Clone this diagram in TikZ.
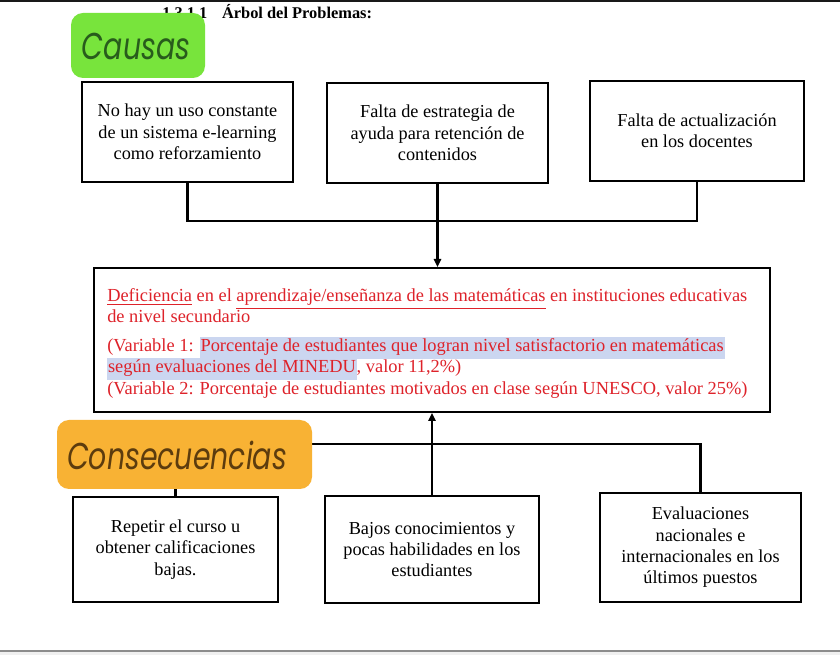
\documentclass[tikz,border=0pt]{standalone}
\usepackage{fontspec}
\setmainfont{Liberation Serif}
\newfontfamily\handfont{Poppins}[FakeStretch=0.76]
\usetikzlibrary{arrows.meta}
\definecolor{redtxt}{RGB}{222,34,42}
\definecolor{hlblue}{RGB}{203,214,240}
\definecolor{causafill}{RGB}{120,228,60}
\definecolor{causatxt}{RGB}{40,92,28}
\definecolor{consfill}{RGB}{248,178,52}
\definecolor{constxt}{RGB}{92,60,14}
\newcommand\hlb[1]{{\setlength{\fboxsep}{0.6pt}\colorbox{hlblue}{\strut #1}}}
\tikzset{
  boxtxt/.style={font=\fontsize{13.7}{16}\selectfont, align=center},
  sbox/.style={draw=black, line width=1.5pt, fill=white, boxtxt, inner sep=0pt},
  conn/.style={draw=black, line width=2pt},
  arr/.style={conn, -{Triangle[length=6pt,width=5.5pt]}},
  probline/.style={anchor=base west, text=redtxt, font=\fontsize{13.8}{15}\selectfont, inner sep=0pt},
  tagbox/.style={rounded corners=9pt, inner sep=0pt},
  tagtxt/.style={font=\handfont\itshape\fontsize{28}{30}\selectfont, inner sep=0pt}
}
\begin{document}
\begin{tikzpicture}[x=0.75pt,y=-0.75pt]
\useasboundingbox (0,0) rectangle (840,655);
\fill[white] (0,0) rectangle (840,655);

% heading
\node[anchor=base west, font=\bfseries\fontsize{12.3}{15}\selectfont, inner sep=0pt] (title) at (162,19) {1.3.1.1\hspace{11pt}Árbol del Problemas:};

% causes
\node[sbox, minimum width={211*0.75pt}, minimum height={100*0.75pt}] (c1) at (187.5,132) {No hay un uso constante\\de un sistema e-learning\\como reforzamiento};
\node[sbox, minimum width={221*0.75pt}, minimum height={100*0.75pt}] (c2) at (437.5,133) {Falta de estrategia de\\ayuda para retención de\\contenidos};
\node[sbox, minimum width={214*0.75pt}, minimum height={100*0.75pt}] (c3) at (697,131) {Falta de actualización\\en los docentes};

% problem
\node[draw=black, line width=1.5pt, minimum width={676*0.75pt}, minimum height={144*0.75pt}, inner sep=0pt] (p) at (432,340) {};
\node[probline] (l1) at (107,302) {\underline{Deficiencia} en el \underline{aprendizaje/enseñanza de las matemáticas} en instituciones educativas};
\node[probline] (l2) at (107,323) {de nivel secundario};
\node[probline] (l3) at (107,352) {(Variable 1: \hlb{Porcentaje de estudiantes que logran nivel satisfactorio en matemáticas}};
\node[probline] (l4) at (107,373) {\hlb{según evaluaciones del MINEDU}, valor 11,2\%)};
\node[probline] (l5) at (107,395) {(Variable 2: Porcentaje de estudiantes motivados en clase según UNESCO, valor 25\%)};

% consequences
\node[sbox, minimum width={205*0.75pt}, minimum height={105*0.75pt}] (k1) at (175.5,549.5) {Repetir el curso u\\obtener calificaciones\\bajas.};
\node[sbox, minimum width={214*0.75pt}, minimum height={107*0.75pt}] (k2) at (432,549.5) {Bajos conocimientos y\\pocas habilidades en los\\estudiantes};
\node[sbox, minimum width={201*0.75pt}, minimum height={109*0.75pt}] (k3) at (700.5,547.5) {Evaluaciones\\nacionales e\\internacionales en los\\últimos puestos};

% connectors
\coordinate (jc) at (437.5,221);
\draw[conn] (c1.south) |- (jc) -| (c3.south);
\draw[arr] (c2.south) -- (c2.south |- p.north);
\coordinate (jk) at (432,444);
\draw[conn] (k1.north) |- (jk) -| (k3.north);
\draw[arr] (k2.north) -- (k2.north |- p.south);

% tags
\node[tagbox, fill=causafill, minimum width={134*0.75pt}, minimum height={65*0.75pt}] (causas) at (138,45.5) {};
\node[tagtxt, text=causatxt] (causastxt) at (136,46) {Causas};
\node[tagbox, fill=consfill, minimum width={255*0.75pt}, minimum height={69*0.75pt}] (cons) at (184.5,454.5) {};
\node[tagtxt, text=constxt] (constext) at (177,455) {Consecuencias};

% screen edges
\fill[black!90] (0,0) rectangle (840,2.5);
\fill[black!6] (0,651) rectangle (840,655);
\draw[black!45, line width=1pt] (0,651) -- (840,651);
\end{tikzpicture}
\end{document}
